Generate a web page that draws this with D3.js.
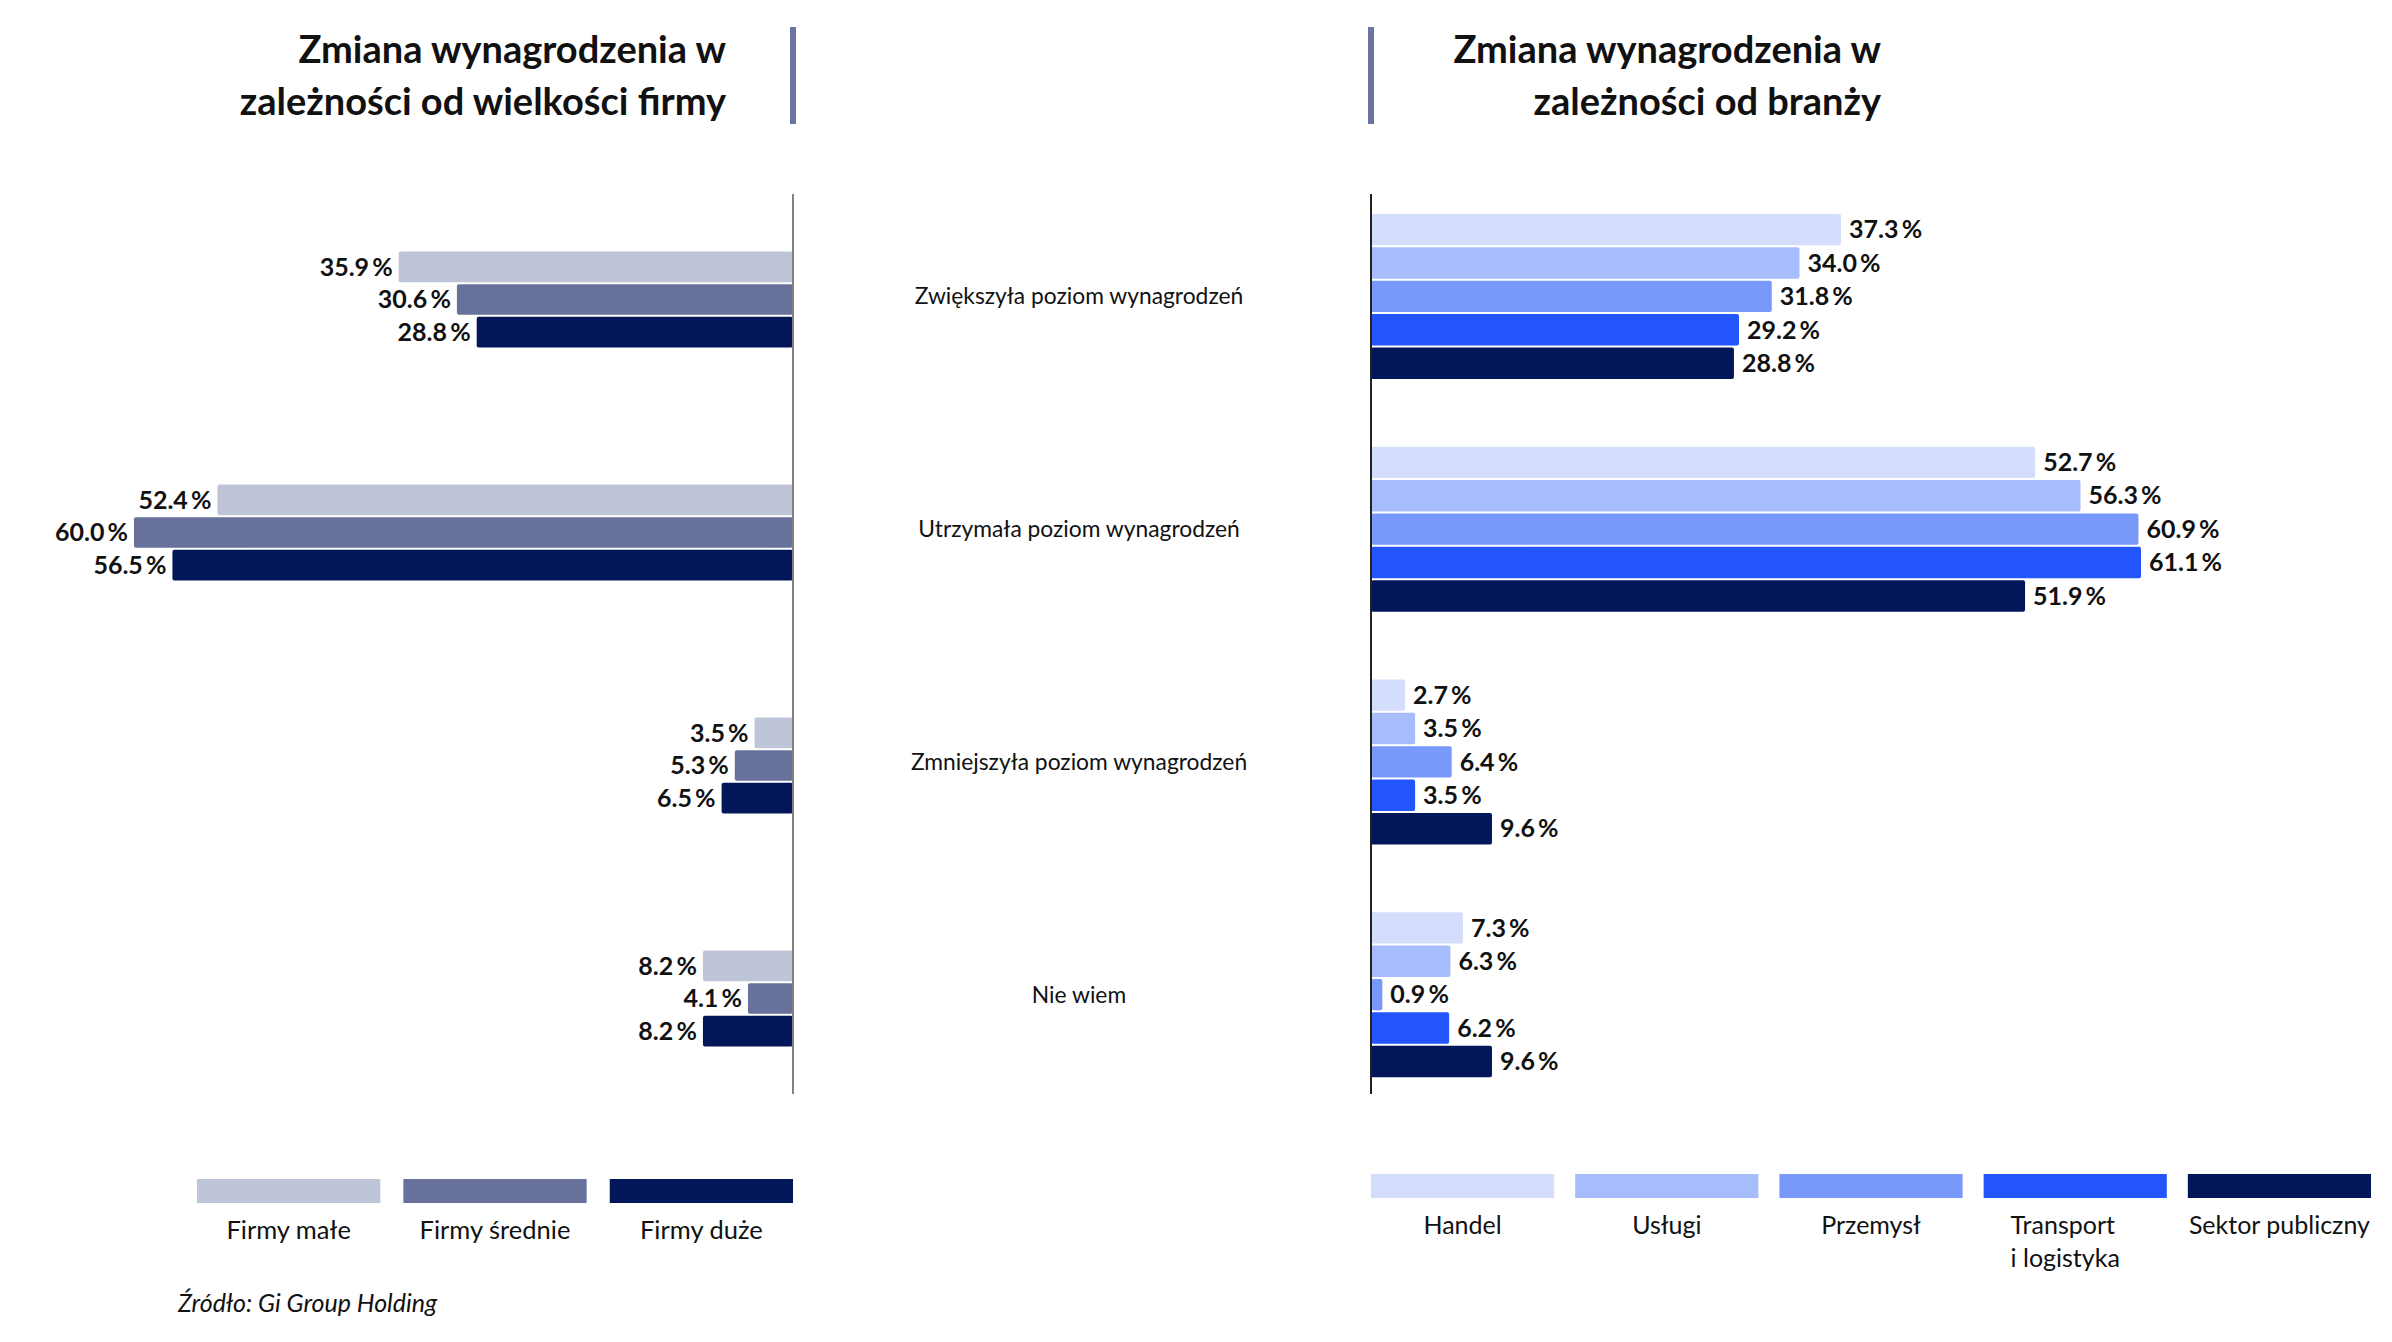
<!DOCTYPE html>
<html><head><meta charset="utf-8">
<script src="https://cdn.jsdelivr.net/npm/d3@7"></script>
<style>
html,body{margin:0;padding:0;background:#fff;}
text{font-family:Lato,"Noto Sans",sans-serif;}
</style></head>
<body>
<svg id="chart" width="2392" height="1342"></svg>
<script>
// ---------- data ----------
const categories = ["Zwiększyła poziom wynagrodzeń","Utrzymała poziom wynagrodzeń","Zmniejszyła poziom wynagrodzeń","Nie wiem"];

const sizeSeries = ["Firmy małe","Firmy średnie","Firmy duże"];
const sizeSmall  = [35.9, 52.4, 3.5, 8.2];
const sizeMedium = [30.6, 60.0, 5.3, 4.1];
const sizeLarge  = [28.8, 56.5, 6.5, 8.2];

const industrySeries = ["Handel","Usługi","Przemysł","Transport\ni logistyka","Sektor publiczny"];
const handel     = [37.3, 52.7, 2.7, 7.3];
const uslugi     = [34.0, 56.3, 3.5, 6.3];
const przemysl   = [31.8, 60.9, 6.4, 0.9];
const transport  = [29.2, 61.1, 3.5, 6.2];
const publiczny  = [28.8, 51.9, 9.6, 9.6];

const titleLeft  = ["Zmiana wynagrodzenia w","zależności od wielkości firmy"];
const titleRight = ["Zmiana wynagrodzenia w","zależności od branży"];
const sourceText = "Źródło: Gi Group Holding";

const sizeColors = ["#bfc5d8","#67719b","#021659"];
const industryColors = ["#d4ddfb","#a7bcfa","#7898fa","#2255fb","#021659"];

const sizeValues = [sizeSmall, sizeMedium, sizeLarge];
const industryValues = [handel, uslugi, przemysl, transport, publiczny];

// ---------- drawing ----------
const svg = d3.select("#chart");
const fmt = v => d3.format(".1f")(v) + "\u2009%";

// titles
function title(lines, xRight){
  const t = svg.append("text").attr("text-anchor","end").attr("font-weight","700")
    .attr("font-size",38).attr("fill","#111");
  lines.forEach((l,i)=> t.append("tspan").attr("x",xRight).attr("y",63+i*52).text(l));
}
title(titleLeft, 726);
title(titleRight, 1881);
svg.append("rect").attr("x",790).attr("y",27).attr("width",6).attr("height",97).attr("fill","#6b73a0");
svg.append("rect").attr("x",1368).attr("y",27).attr("width",6).attr("height",97).attr("fill","#6b73a0");

// ---- left panel (size) ----
const xL = d3.scaleLinear().domain([0,60]).range([793, 793-659]);
const yL0 = d3.scaleBand().domain(categories).range([183,1115]);
const grpL = 96;
const yL1 = d3.scaleBand().domain(sizeSeries).range([0,grpL]).paddingInner(0.06);

const gL = svg.append("g");
categories.forEach((c,ci)=>{
  const top = yL0(c) + (yL0.bandwidth()-grpL)/2;
  sizeSeries.forEach((s,si)=>{
    const v = sizeValues[si][ci];
    gL.append("rect").attr("x",xL(v)).attr("y",top+yL1(s))
      .attr("width",xL(0)-xL(v)).attr("height",yL1.bandwidth())
      .attr("rx",2).attr("fill",sizeColors[si]);
    gL.append("text").attr("x",xL(v)-6).attr("y",top+yL1(s)+yL1.bandwidth()/2)
      .attr("dy","0.35em").attr("text-anchor","end").attr("font-weight","700")
      .attr("font-size",25).attr("fill","#111").text(fmt(v));
  });
});
svg.append("line").attr("x1",xL(0)).attr("x2",xL(0)).attr("y1",194).attr("y2",1094)
  .attr("stroke","#808080").attr("stroke-width",2);

// ---- right panel (industry) ----
const xR = d3.scaleLinear().domain([0,61.1]).range([1371, 2141]);
const yR0 = d3.scaleBand().domain(categories).range([180,1111]);
const grpR = 165;
const yR1 = d3.scaleBand().domain(industrySeries).range([0,grpR]).paddingInner(0.06);

const gR = svg.append("g");
categories.forEach((c,ci)=>{
  const top = yR0(c) + (yR0.bandwidth()-grpR)/2;
  industrySeries.forEach((s,si)=>{
    const v = industryValues[si][ci];
    gR.append("rect").attr("x",xR(0)).attr("y",top+yR1(s))
      .attr("width",xR(v)-xR(0)).attr("height",yR1.bandwidth())
      .attr("rx",2).attr("fill",industryColors[si]);
    gR.append("text").attr("x",xR(v)+8).attr("y",top+yR1(s)+yR1.bandwidth()/2)
      .attr("dy","0.35em").attr("text-anchor","start").attr("font-weight","700")
      .attr("font-size",25).attr("fill","#111").text(fmt(v));
  });
});
svg.append("line").attr("x1",xR(0)).attr("x2",xR(0)).attr("y1",194).attr("y2",1094)
  .attr("stroke","#222").attr("stroke-width",2);

// category labels in the middle
categories.forEach(c=>{
  svg.append("text").attr("x",1079).attr("y",yR0(c)+yR0.bandwidth()/2)
    .attr("dy","0.35em").attr("text-anchor","middle").attr("font-size",22.8)
    .attr("fill","#111").text(c);
});

// ---- legends ----
const legL = d3.scaleBand().domain(sizeSeries).range([197, 793]).paddingInner(0.112);
sizeSeries.forEach((s,i)=>{
  svg.append("rect").attr("x",legL(s)).attr("y",1179).attr("width",legL.bandwidth()).attr("height",24)
    .attr("fill",sizeColors[i]);
  svg.append("text").attr("x",legL(s)+legL.bandwidth()/2).attr("y",1239)
    .attr("text-anchor","middle").attr("font-size",25.5).attr("fill","#111").text(s);
});

const legR = d3.scaleBand().domain(industrySeries).range([1371, 2371]).paddingInner(0.103);
industrySeries.forEach((s,i)=>{
  const x = legR(s), w = legR.bandwidth();
  svg.append("rect").attr("x",x).attr("y",1174).attr("width",w).attr("height",24)
    .attr("fill",industryColors[i]);
  const lines = s.split("\n");
  const t = svg.append("text").attr("font-size",25).attr("fill","#111");
  if(lines.length>1){
    t.attr("text-anchor","start");
    lines.forEach((l,li)=> t.append("tspan").attr("x",x+27).attr("y",1234+li*33).text(l));
  } else {
    t.attr("text-anchor","middle").attr("x",x+w/2).attr("y",1234).text(s);
  }
});

// source
svg.append("text").attr("x",178).attr("y",1312).attr("font-style","italic")
  .attr("font-size",25).attr("fill","#111").text(sourceText);
</script>
</body></html>
